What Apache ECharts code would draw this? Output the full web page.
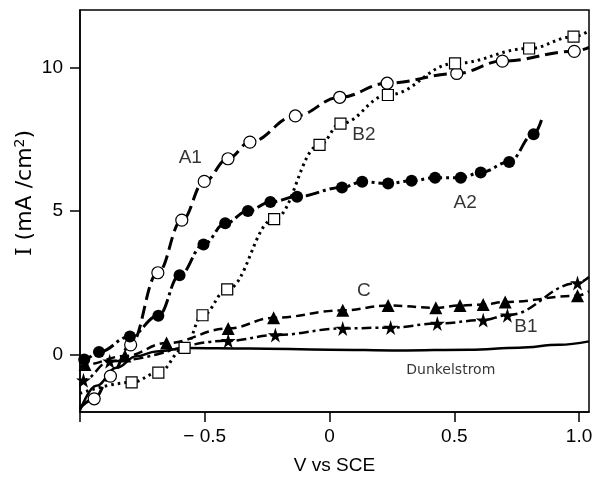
<!DOCTYPE html>
<html>
<head>
<meta charset="utf-8">
<script src="https://cdn.jsdelivr.net/npm/echarts@6/dist/echarts.min.js"></script>
<style>
  html, body { margin: 0; padding: 0; background: #fff; }
  #chart { width: 596px; height: 480px; }
</style>
</head>
<body>
<div id="chart"></div>
<script>
// Current density I (mA/cm^2) against potential V vs SCE.
// Each curve: measured points [V, I] plus the start/end of the drawn line.
const a1Points = [[-0.943,-1.54],[-0.878,-0.75],[-0.797,0.34],[-0.688,2.85],[-0.592,4.68],[-0.502,6.03],[-0.407,6.82],[-0.319,7.40],[-0.137,8.31],[0.041,8.96],[0.231,9.45],[0.51,9.79],[0.693,10.22],[0.981,10.56]];
const a1Ends = [[-1.0,-1.85],[1.04,10.7]];

const a2Points = [[-0.983,-0.17],[-0.924,0.09],[-0.80,0.63],[-0.686,1.35],[-0.601,2.76],[-0.505,3.83],[-0.418,4.57],[-0.327,5.0],[-0.237,5.31],[-0.13,5.50],[0.05,5.82],[0.131,6.02],[0.235,5.96],[0.329,6.05],[0.423,6.16],[0.526,6.16],[0.606,6.34],[0.72,6.71],[0.818,7.67]];
const a2Ends = [[-1.0,-0.3],[0.854,8.28]];

const b2Points = [[-0.793,-0.97],[-0.686,-0.63],[-0.581,0.23],[-0.509,1.37],[-0.41,2.27],[-0.222,4.72],[-0.04,7.30],[0.044,8.04],[0.234,9.04],[0.503,10.14],[0.80,10.66],[0.978,11.07]];
const b2Ends = [[-1.0,-1.35],[1.04,11.27]];

const cPoints = [[-0.98,-0.35],[-0.82,-0.05],[-0.653,0.40],[-0.406,0.91],[-0.224,1.28],[0.053,1.54],[0.235,1.71],[0.426,1.63],[0.523,1.71],[0.616,1.74],[0.704,1.83],[0.994,2.05]];
const cEnds = [[-1.0,-0.45],[1.04,2.2]];

const b1Points = [[-0.986,-0.89],[-0.881,-0.23],[-0.406,0.48],[-0.217,0.68],[0.053,0.91],[0.245,0.94],[0.432,1.08],[0.616,1.20],[0.713,1.37],[0.994,2.49]];
const b1Ends = [[-1.0,-1.05],[1.04,2.7]];

// Dark current (no markers)
const darkCurrent = [[-1.0,-1.94],[-0.935,-1.09],[-0.854,-0.46],[-0.774,-0.06],[-0.694,0.11],[-0.573,0.23],[-0.324,0.21],[0,0.17],[0.28,0.14],[0.56,0.17],[0.76,0.24],[0.92,0.34],[1.04,0.46]];

// Axis ticks and labels
const xTickValues = [-1.0, -0.5, 0, 0.5, 1.0];
const xLabelValues = [-0.5, 0, 0.5, 1.0];
const xLabelTexts = ['\u2212 0.5', '0', '0.5', '1.0'];
const yTickValues = [0, 5, 10];
const yLabelTexts = ['0', '5', '10'];

// Curve names and where they are written
const curveNames = ['A1', 'B2', 'A2', 'C', 'B1', 'Dunkelstrom'];
const curveNamePositions = [[-0.558,6.85],[0.138,7.67],[0.544,5.27],[0.138,2.23],[0.787,0.97],[0.486,-0.55]];

const FONT = 'Liberation Sans, Arial, sans-serif';
const STAR = 'path://M50,0 L61,35 L98,35 L68,57 L79,91 L50,70 L21,91 L32,57 L2,35 L39,35 Z';

function lineData(points, ends) {
  return [{ value: ends[0], symbol: 'none' }]
    .concat(points.map(p => ({ value: p })))
    .concat([{ value: ends[1], symbol: 'none' }]);
}

function curve(name, points, ends, symbol, size, filled, dash, width) {
  return {
    name: name,
    type: 'line',
    data: lineData(points, ends),
    smooth: 0.4,
    smoothMonotone: 'x',
    symbol: symbol,
    symbolSize: size,
    showAllSymbol: true,
    animation: false,
    lineStyle: { color: '#000', width: width, type: dash, cap: 'butt' },
    itemStyle: filled
      ? { color: '#000', borderColor: '#000', borderWidth: 0 }
      : { color: '#fff', borderColor: '#000', borderWidth: 1.2 },
    z: 3
  };
}

const chart = echarts.init(document.getElementById('chart'), null, { renderer: 'canvas' });

const option = {
  backgroundColor: '#fff',
  animation: false,
  grid: {
    left: 80, right: 7, top: 10, bottom: 62,
    show: true, borderColor: '#000', borderWidth: 1.5, backgroundColor: 'transparent'
  },
  xAxis: {
    type: 'value',
    min: -1.0, max: 1.04,
    axisLine: { onZero: false, lineStyle: { color: '#000', width: 1.5 } },
    axisTick: { show: true, customValues: xTickValues, length: 10, lineStyle: { color: '#000', width: 1.5 } },
    axisLabel: {
      customValues: xLabelValues,
      formatter: v => xLabelTexts[xLabelValues.indexOf(v)] ?? '',
      color: '#000', fontFamily: FONT, fontSize: 19, margin: 15
    },
    splitLine: { show: false },
    name: 'V vs SCE',
    nameLocation: 'middle',
    nameGap: 44,
    nameTextStyle: { color: '#000', fontFamily: FONT, fontSize: 19 }
  },
  yAxis: {
    type: 'value',
    min: -2, max: 12,
    axisLine: { show: true, onZero: false, lineStyle: { color: '#000', width: 1.5 } },
    axisTick: { show: true, customValues: yTickValues, length: 10, lineStyle: { color: '#000', width: 1.5 } },
    axisLabel: {
      customValues: yTickValues,
      formatter: v => yLabelTexts[yTickValues.indexOf(v)] ?? '',
      color: '#000', fontFamily: FONT, fontSize: 19, margin: 17
    },
    splitLine: { show: false }
  },
  graphic: [{
    type: 'text',
    x: 25, y: 193,
    rotation: Math.PI / 2,
    style: {
      text: '{i|I} (mA /cm{s|2})',
      font: '22px DejaVu Sans, sans-serif',
      fill: '#000',
      align: 'center',
      verticalAlign: 'middle',
      rich: {
        i: { fontFamily: 'DejaVu Serif, serif', fontSize: 22, fill: '#000' },
        s: { fontFamily: 'DejaVu Sans, sans-serif', fontSize: 14, verticalAlign: 'top', padding: [0, 0, 10, 0], fill: '#000' }
      }
    }
  }],
  series: [
    {
      name: 'Dunkelstrom', type: 'line', data: darkCurrent, smooth: 0.4, smoothMonotone: 'x',
      symbol: 'none', lineStyle: { color: '#000', width: 2.5 }, z: 2
    },
    curve('A1', a1Points, a1Ends, 'circle', 12, false, [13, 6], 3),
    curve('A2', a2Points, a2Ends, 'circle', 12, true, [14, 4, 3, 4], 3),
    curve('B2', b2Points, b2Ends, 'rect', 11, false, [2.5, 4], 3),
    curve('C', cPoints, cEnds, 'triangle', 13, true, [9, 5], 2.5),
    curve('B1', b1Points, b1Ends, STAR, 15, true, [10, 4, 3, 4], 2.5),
    {
      name: 'labels', type: 'scatter', symbol: 'circle', symbolSize: 1, z: 5,
      itemStyle: { color: 'rgba(0,0,0,0)' },
      data: curveNames.map((n, i) => ({
        name: n,
        value: curveNamePositions[i],
        label: n === 'Dunkelstrom'
          ? { fontSize: 14, fontFamily: 'DejaVu Sans, sans-serif' }
          : { fontSize: 19 }
      })),
      label: {
        show: true, position: 'inside', formatter: '{b}',
        color: '#000', fontFamily: FONT
      },
      silent: true
    }
  ]
};

chart.setOption(option);
</script>
</body>
</html>
